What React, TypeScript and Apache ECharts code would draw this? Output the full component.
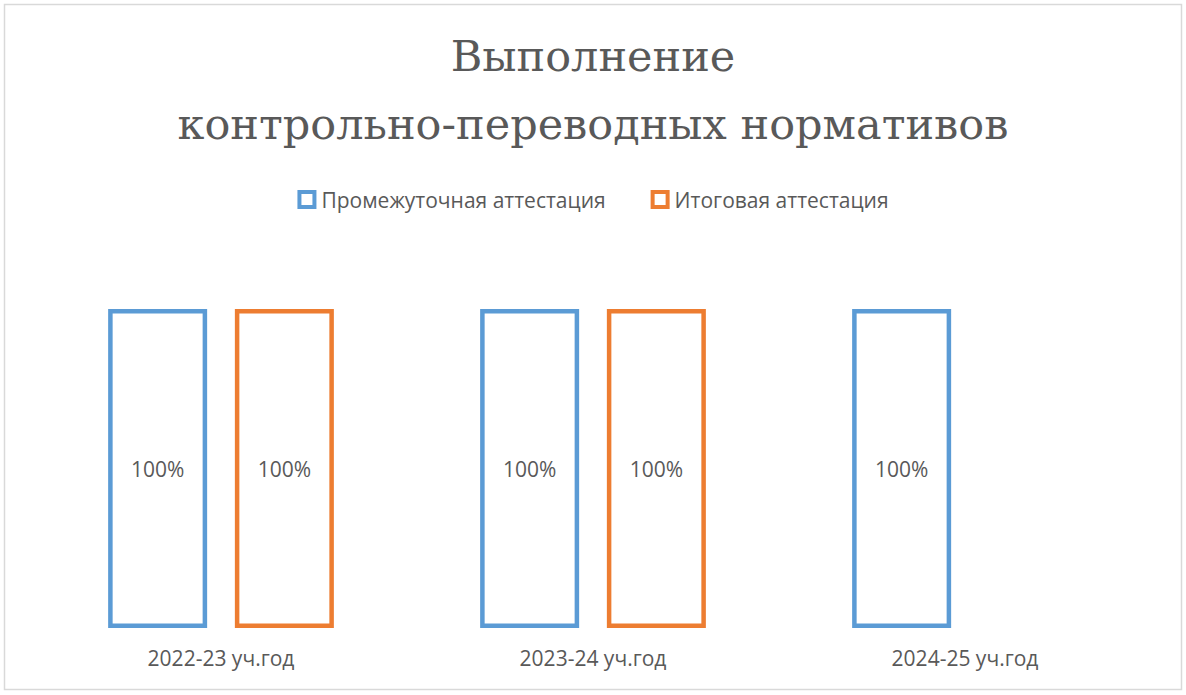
import React, { useEffect, useRef } from "react";
import * as echarts from "echarts";

const categories = ["2022-23 уч.год", "2023-24 уч.год", "2024-25 уч.год"];
const intermediate = [1, 1, 1];
const finalCert = [1, 1, null];
const seriesNames = ["Промежуточная аттестация", "Итоговая аттестация"];
const titleText = "Выполнение\nконтрольно-переводных нормативов";

const BLUE = "#5b9bd5";
const ORANGE = "#ed7d31";
const GRAY = "#595959";

export default function App() {
  const ref = useRef<HTMLDivElement>(null);
  useEffect(() => {
    const chart = echarts.init(ref.current!, null, { renderer: "svg" });
    const labelCfg = {
      show: true,
      position: "inside",
      color: GRAY,
      fontSize: 21,
      fontFamily: "Open Sans",
      formatter: (p: any) => Math.round(p.value * 100) + "%",
    };
    chart.setOption({
      animation: false,
      backgroundColor: "#fff",
      title: {
        text: titleText,
        left: "center",
        top: 17,
        textStyle: {
          fontFamily: "DejaVu Serif",
          fontSize: 43,
          fontWeight: "normal",
          color: GRAY,
          lineHeight: 68,
        },
      },
      legend: {
        top: 184,
        left: "center",
        itemWidth: 15,
        itemHeight: 15,
        itemGap: 45,
        textStyle: { fontSize: 21, color: GRAY, fontFamily: "Open Sans", padding: [0, 0, 0, 2] },
        data: [
          { name: seriesNames[0], icon: "rect", itemStyle: { color: "#fff", borderColor: BLUE, borderWidth: 4 } },
          { name: seriesNames[1], icon: "rect", itemStyle: { color: "#fff", borderColor: ORANGE, borderWidth: 4 } },
        ],
      },
      graphic: [
        {
          type: "rect",
          shape: { x: 4.5, y: 4.5, width: 1177, height: 685 },
          style: { fill: "none", stroke: "#d9d9d9", lineWidth: 1.5 },
          silent: true,
        },
      ],
      grid: { left: 35, right: 35, top: 309, bottom: 67 },
      xAxis: {
        type: "category",
        data: categories,
        axisLine: { show: false },
        axisTick: { show: false },
        axisLabel: { fontSize: 21, color: GRAY, fontFamily: "Open Sans", margin: 19 },
      },
      yAxis: { type: "value", min: 0, max: 1, show: false, splitLine: { show: false } },
      series: [
        {
          name: seriesNames[0],
          type: "bar",
          data: intermediate,
          barWidth: 99,
          barGap: "28%",
          itemStyle: { color: "#fff", borderColor: BLUE, borderWidth: 4.5 },
          label: labelCfg,
        },
        {
          name: seriesNames[1],
          type: "bar",
          data: finalCert,
          barWidth: 99,
          barGap: "28%",
          itemStyle: { color: "#fff", borderColor: ORANGE, borderWidth: 4.5 },
          label: labelCfg,
        },
      ],
    });
    return () => chart.dispose();
  }, []);
  return (
    <div
      ref={ref}
      style={{ position: "absolute", left: 0, top: 0, width: 1186, height: 695 }}
    />
  );
}
